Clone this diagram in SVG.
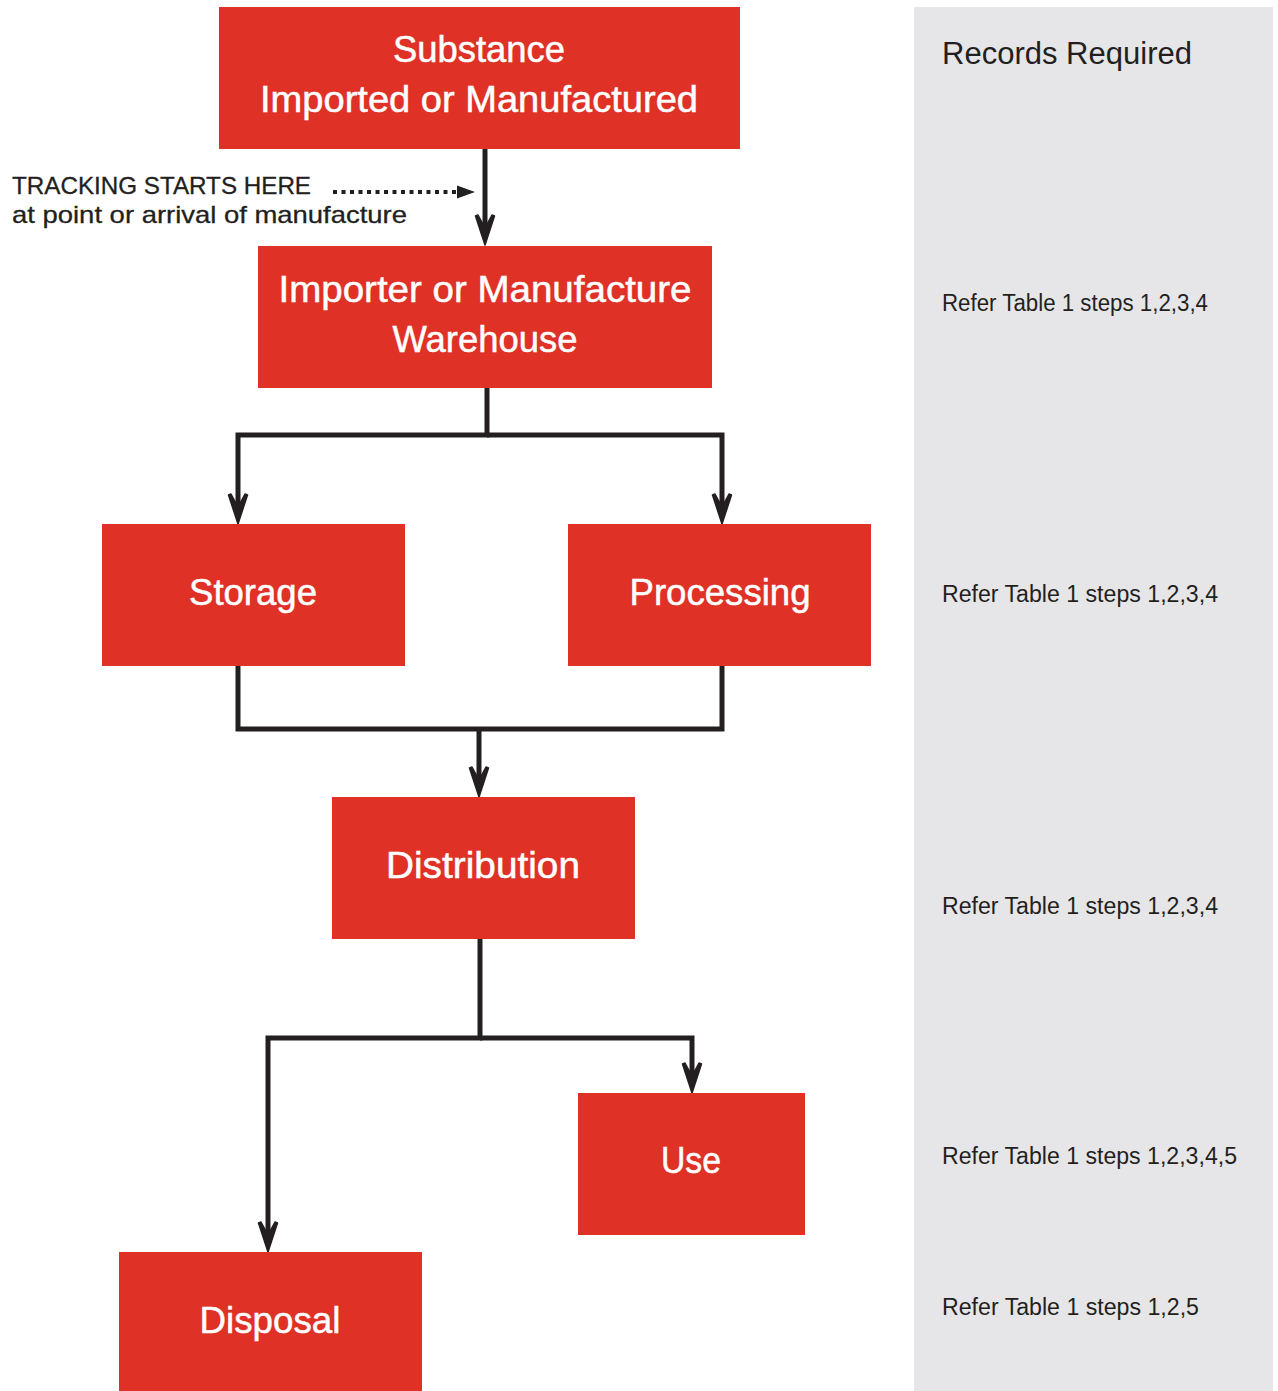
<svg xmlns="http://www.w3.org/2000/svg" width="1278" height="1391" viewBox="0 0 1278 1391">
<style>
.box{fill:#e03127}
.bt{fill:#fff;font-family:"Liberation Sans",Arial,sans-serif;font-size:37px;text-anchor:middle;stroke:#fff;stroke-width:0.5}
.rt{fill:#231f20;font-family:"Liberation Sans",Arial,sans-serif;font-size:23px}
.ln{fill:none;stroke:#231f20;stroke-width:5}
.ah{fill:#231f20;stroke:#231f20;stroke-width:1.5;stroke-linejoin:round}
.tk{fill:#231f20;font-family:"Liberation Sans",Arial,sans-serif;font-size:24px;stroke:#231f20;stroke-width:0.3}
</style>
<defs>
<path id="arr" d="M0,0 L-9.5,-29 L-7,-30 L0,-17 L7,-30 L9.5,-29 Z"/>
</defs>
<rect x="914" y="7" width="359" height="1384" fill="#e6e6e8"/>
<g id="records">
<text class="rt" x="942" y="64" style="font-size:31px" textLength="250" lengthAdjust="spacingAndGlyphs">Records Required</text>
<text class="rt" x="942" y="311" textLength="266" lengthAdjust="spacingAndGlyphs">Refer Table 1 steps 1,2,3,4</text>
<text class="rt" x="942" y="602" textLength="276" lengthAdjust="spacingAndGlyphs">Refer Table 1 steps 1,2,3,4</text>
<text class="rt" x="942" y="914" textLength="276" lengthAdjust="spacingAndGlyphs">Refer Table 1 steps 1,2,3,4</text>
<text class="rt" x="942" y="1164" textLength="295" lengthAdjust="spacingAndGlyphs">Refer Table 1 steps 1,2,3,4,5</text>
<text class="rt" x="942" y="1315" textLength="257" lengthAdjust="spacingAndGlyphs">Refer Table 1 steps 1,2,5</text>
</g>
<g id="connectors">
<path class="ln" d="M485,149 V230"/>
<use href="#arr" class="ah" x="485" y="245"/>
<path class="ln" d="M487,388 V435 H238 V509"/>
<use href="#arr" class="ah" x="238" y="524"/>
<path class="ln" d="M487,435 H722 V509"/>
<use href="#arr" class="ah" x="722" y="524"/>
<path class="ln" d="M238,666 V729 H722 V666"/>
<path class="ln" d="M479,729 V782"/>
<use href="#arr" class="ah" x="479" y="797"/>
<path class="ln" d="M480,939 V1038 H268 V1237"/>
<use href="#arr" class="ah" x="268" y="1252"/>
<path class="ln" d="M480,1038 H692 V1078"/>
<use href="#arr" class="ah" x="692" y="1093"/>
<path d="M333,192 H458" fill="none" stroke="#231f20" stroke-width="4" stroke-dasharray="4,4.5"/>
<path d="M475,192 L457,185.5 L457,198.5 Z" fill="#231f20"/>
</g>
<g id="tracking">
<text class="tk" x="12" y="194" textLength="299" lengthAdjust="spacingAndGlyphs">TRACKING STARTS HERE</text>
<text class="tk" x="12" y="223" textLength="395" lengthAdjust="spacingAndGlyphs">at point or arrival of manufacture</text>
</g>
<g id="substance">
<rect class="box" x="219" y="7" width="521" height="142"/>
<text class="bt" x="479" y="62" textLength="172" lengthAdjust="spacingAndGlyphs">Substance</text>
<text class="bt" x="479" y="112" textLength="438" lengthAdjust="spacingAndGlyphs">Imported or Manufactured</text>
</g>
<g id="warehouse">
<rect class="box" x="258" y="246" width="454" height="142"/>
<text class="bt" x="485" y="302" textLength="413" lengthAdjust="spacingAndGlyphs">Importer or Manufacture</text>
<text class="bt" x="485" y="352" textLength="185" lengthAdjust="spacingAndGlyphs">Warehouse</text>
</g>
<g id="storage">
<rect class="box" x="102" y="524" width="303" height="142"/>
<text class="bt" x="253" y="605" textLength="128" lengthAdjust="spacingAndGlyphs">Storage</text>
</g>
<g id="processing">
<rect class="box" x="568" y="524" width="303" height="142"/>
<text class="bt" x="720" y="605" textLength="181" lengthAdjust="spacingAndGlyphs">Processing</text>
</g>
<g id="distribution">
<rect class="box" x="332" y="797" width="303" height="142"/>
<text class="bt" x="483" y="878" textLength="194" lengthAdjust="spacingAndGlyphs">Distribution</text>
</g>
<g id="use">
<rect class="box" x="578" y="1093" width="227" height="142"/>
<text class="bt" x="691" y="1173" textLength="60" lengthAdjust="spacingAndGlyphs">Use</text>
</g>
<g id="disposal">
<rect class="box" x="119" y="1252" width="303" height="139"/>
<text class="bt" x="270" y="1333" textLength="141" lengthAdjust="spacingAndGlyphs">Disposal</text>
</g>
</svg>
